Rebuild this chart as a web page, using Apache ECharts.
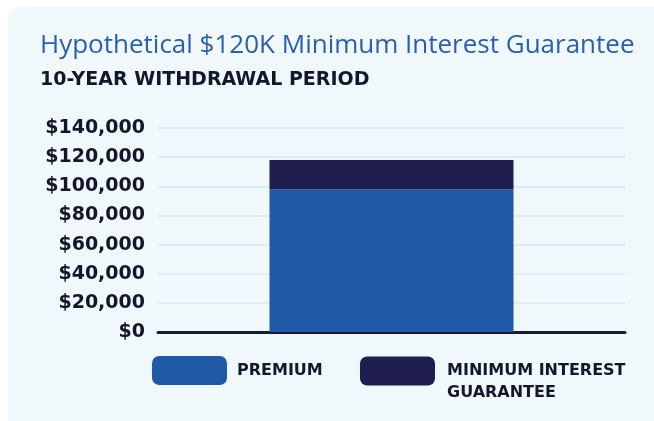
<!DOCTYPE html>
<html>
<head>
<meta charset="utf-8">
<script src="https://cdn.jsdelivr.net/npm/echarts@6/dist/echarts.min.js"></script>
<style>
  html, body { margin: 0; padding: 0; background: #ffffff; }
  #chart { width: 654px; height: 421px; }
</style>
</head>
<body>
<div id="chart"></div>
<script type="text/javascript">
  // chart data
  var categories = ['10-Year Withdrawal'];
  var premium = [98000];
  var guarantee = [20000];
  var yTicks = [0, 20000, 40000, 60000, 80000, 100000, 120000, 140000];

  var dark = '#16162b';
  var chart = echarts.init(document.getElementById('chart'));

  chart.setOption({
    backgroundColor: '#ffffff',
    animation: false,
    graphic: [
      {
        type: 'rect',
        z: -10,
        shape: { x: 8, y: 7, width: 660, height: 440, r: 12 },
        style: { fill: '#f1f8fb' }
      }
    ],
    title: [
      {
        text: 'Hypothetical $120K Minimum Interest Guarantee',
        left: 35,
        top: 28,
        textStyle: { fontFamily: 'Open Sans', fontSize: 26, fontWeight: 'normal', color: '#2a5fae' }
      },
      {
        text: '10-YEAR WITHDRAWAL PERIOD',
        left: 35,
        top: 66,
        textStyle: { fontFamily: 'DejaVu Sans', fontSize: 19, fontWeight: 'bold', color: dark }
      }
    ],
    legend: [
      {
        data: ['PREMIUM'],
        left: 152,
        top: 356,
        padding: 0,
        itemWidth: 75,
        itemHeight: 29,
        icon: 'roundRect',
        textStyle: { fontFamily: 'DejaVu Sans', fontSize: 16, fontWeight: 'bold', color: dark, padding: [0, 0, 0, 5] }
      },
      {
        data: ['MINIMUM INTEREST GUARANTEE'],
        left: 360,
        top: 338,
        padding: 0,
        itemWidth: 75,
        itemHeight: 29,
        icon: 'roundRect',
        formatter: function (name) {
          // blank first line keeps the two text lines hanging from the top of the swatch
          return '\nMINIMUM INTEREST\nGUARANTEE';
        },
        textStyle: { fontFamily: 'DejaVu Sans', fontSize: 16, fontWeight: 'bold', color: dark, lineHeight: 22, padding: [0, 0, 0, 7] }
      }
    ],
    grid: { left: 158, right: 29, top: 128, bottom: 89, containLabel: false },
    xAxis: {
      type: 'category',
      data: categories,
      axisLine: { show: true, lineStyle: { color: '#1a1a30', width: 3 } },
      axisTick: { show: false },
      axisLabel: { show: false }
    },
    yAxis: {
      type: 'value',
      min: yTicks[0],
      max: yTicks[yTicks.length - 1],
      interval: 20000,
      axisLine: { show: false },
      axisTick: { show: false },
      splitLine: { lineStyle: { color: '#ddeef6', width: 2 } },
      axisLabel: {
        margin: 13,
        fontFamily: 'DejaVu Sans',
        fontSize: 19,
        fontWeight: 'bold',
        color: dark,
        formatter: function (v) {
          return '$' + v.toLocaleString('en-US');
        }
      }
    },
    series: [
      {
        name: 'PREMIUM',
        type: 'bar',
        stack: 'total',
        barWidth: 244,
        data: premium,
        itemStyle: { color: '#1f5aa7' }
      },
      {
        name: 'MINIMUM INTEREST GUARANTEE',
        type: 'bar',
        stack: 'total',
        barWidth: 244,
        data: guarantee,
        itemStyle: { color: '#201e4e' }
      }
    ]
  });
</script>
</body>
</html>
